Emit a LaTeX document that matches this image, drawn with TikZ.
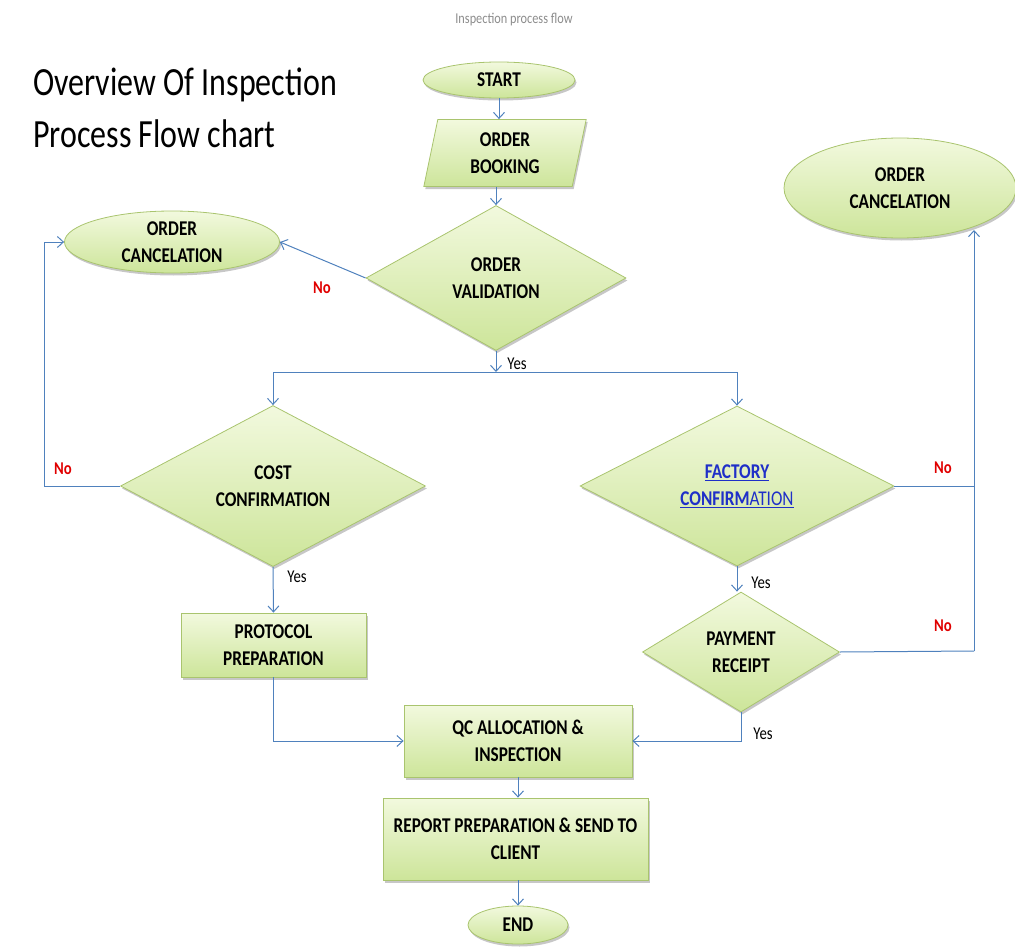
\documentclass[tikz,border=0pt]{standalone}
\usepackage{fontspec}
\setmainfont{Carlito}
\newfontfamily\nodefont[FakeStretch=0.82]{Carlito}
\newfontfamily\titlefont[FakeStretch=0.8]{Carlito}
\usetikzlibrary{shapes.geometric,arrows.meta,shadows}
\definecolor{lineblue}{HTML}{4F81BD}
\definecolor{shapeedge}{HTML}{A9C46E}
\definecolor{filltop}{HTML}{F2F9DE}
\definecolor{fillbot}{HTML}{CDE59A}
\definecolor{linkblue}{HTML}{1F2FC8}
\definecolor{noRed}{HTML}{E00000}
\definecolor{graytext}{HTML}{8C8C8C}
\begin{document}
\begin{tikzpicture}[x=1pt,y=-1pt,
  shp/.style={draw=shapeedge, line width=0.8pt, top color=filltop, bottom color=fillbot,
    drop shadow={shadow xshift=1.5pt, shadow yshift=-2.5pt, opacity=0.22, fill=black},
    font=\nodefont\bfseries\fontsize{21}{27}\selectfont, align=center, inner sep=0pt},
  terminal/.style={shp, ellipse},
  process/.style={shp, rectangle},
  decision/.style={shp, diamond},
  iobox/.style={shp, trapezium, trapezium left angle=80, trapezium right angle=100, trapezium stretches=true},
  conn/.style={draw=lineblue, line width=1pt},
  arr/.style={conn, -{Straight Barb[length=6pt,width=11pt]}},
  yeslbl/.style={font=\nodefont\fontsize{18}{20}\selectfont, text=black, inner sep=0pt},
  nolbl/.style={font=\nodefont\bfseries\fontsize{18}{20}\selectfont, text=noRed, inner sep=0pt}
]
\useasboundingbox (0,0) rectangle (1015,947);

% headings
\node[font=\nodefont\fontsize{15}{17}\selectfont, text=graytext] (cap) at (514,20) {Inspection process flow};
\node[anchor=north west, align=left, inner sep=0pt, font=\titlefont\fontsize{40}{52}\selectfont] (title) at (33,68) {Overview Of Inspection\\Process Flow chart};

% nodes
\node[terminal, minimum width=152pt, minimum height=36pt] (start) at (499,80) {START};
\node[iobox, minimum width=163pt, minimum height=67pt] (book) at (505,153) {ORDER\\BOOKING};
\node[decision, aspect=1.8, minimum width=260pt, minimum height=145pt] (val) at (496,278) {ORDER\\VALIDATION};
\node[terminal, minimum width=215pt, minimum height=62pt] (lc) at (172,242) {ORDER\\CANCELATION};
\node[terminal, minimum width=232pt, minimum height=100pt] (rc) at (900,188) {ORDER\\CANCELATION};
\node[decision, aspect=1.9, minimum width=305pt, minimum height=161pt] (cost) at (273,486) {COST\\CONFIRMATION};
\node[decision, aspect=1.95, minimum width=314pt, minimum height=160pt] (fac) at (737,486)
  {\textcolor{linkblue}{\underline{FACTORY}}\\\textcolor{linkblue}{\underline{CONFIRM\mdseries ATION}}};
\node[decision, aspect=1.6, minimum width=197pt, minimum height=120pt] (pay) at (741,652) {PAYMENT\\RECEIPT};
\node[process, minimum width=185pt, minimum height=64pt] (prot) at (273.5,645) {PROTOCOL\\PREPARATION};
\node[process, minimum width=228pt, minimum height=72pt] (qc) at (518,741) {QC ALLOCATION \&\\INSPECTION};
\node[process, minimum width=265pt, minimum height=82pt] (rep) at (515.5,839) {REPORT PREPARATION \& SEND TO\\CLIENT};
\node[terminal, minimum width=100pt, minimum height=38pt] (end) at (518,925) {END};

% junction coordinates
\coordinate (hl) at (496,372);
\coordinate (lx) at (44,486);
\coordinate (rx) at (974,651);
\coordinate (rtip) at (974,230);

% connectors
\draw[arr] (start.south) -- (start.south |- book.north);
\draw[arr] (book.south -| val.north) -- (val.north);
\draw[arr] (val.west) -- (lc.east);
\draw[arr] (val.south) -- (hl);
\draw[conn] (cost.north |- hl) -- (fac.north |- hl);
\draw[arr] (cost.north |- hl) -- (cost.north);
\draw[arr] (fac.north |- hl) -- (fac.north);
\draw[arr] (cost.west) -- (lx) |- (lc.west);
\draw[arr] (cost.south) -- (prot.north);
\draw[arr] (prot.south) |- (qc.west);
\draw[arr] (qc.south) -- (qc.south |- rep.north);
\draw[arr] (rep.south -| end.north) -- (end.north);
\draw[arr] (fac.south) -- (fac.south |- pay.north);
\draw[arr] (pay.south) |- (qc.east);
\draw[conn] (fac.east) -- (fac.east -| rx);
\draw[conn] (pay.east) -- (rx);
\draw[arr] (rx) -- (rtip);

% labels
\node[nolbl] (n1) at (322,288) {No};
\node[nolbl] (n2) at (63,469) {No};
\node[nolbl] (n3) at (943,468) {No};
\node[nolbl] (n4) at (943,626) {No};
\node[yeslbl] (y1) at (517,364) {Yes};
\node[yeslbl] (y2) at (297,577) {Yes};
\node[yeslbl] (y3) at (761,583) {Yes};
\node[yeslbl] (y4) at (763,734) {Yes};
\end{tikzpicture}
\end{document}
